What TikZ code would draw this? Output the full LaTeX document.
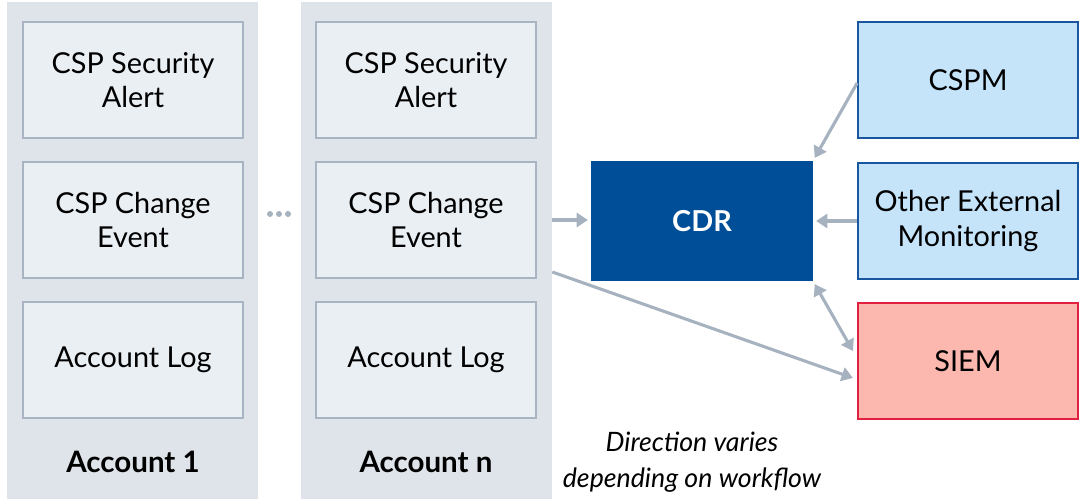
\documentclass[tikz,border=0pt]{standalone}
\usepackage{fontspec}
\setmainfont{Lato}
\usetikzlibrary{arrows.meta, positioning}

\definecolor{panelgray}{RGB}{222,228,234}
\definecolor{boxgray}{RGB}{234,239,244}
\definecolor{boxline}{RGB}{168,180,194}
\definecolor{arrowgray}{RGB}{166,178,192}
\definecolor{cdrblue}{RGB}{0,78,152}
\definecolor{extblue}{RGB}{197,228,250}
\definecolor{extline}{RGB}{24,86,160}
\definecolor{siemfill}{RGB}{252,184,174}
\definecolor{siemline}{RGB}{226,32,64}

\begin{document}
\begin{tikzpicture}[
    x=0.025cm, y=-0.025cm,
    font=\fontsize{20.5}{24.5}\selectfont,
    panel/.style={fill=panelgray, minimum width=6.275cm, minimum height=12.425cm, inner sep=0pt},
    srcbox/.style={fill=boxgray, draw=boxline, line width=1.2pt, minimum width=5.5cm, minimum height=2.9cm, align=center, inner sep=0pt},
    extbox/.style={fill=extblue, draw=extline, line width=1.2pt, minimum width=5.5cm, minimum height=2.9cm, align=center, inner sep=0pt},
    siembox/.style={fill=siemfill, draw=siemline, line width=1.2pt, minimum width=5.5cm, minimum height=2.9cm, align=center, inner sep=0pt},
    cdrbox/.style={fill=cdrblue, minimum width=5.55cm, minimum height=3.0cm, inner sep=0pt, text=white, font=\fontsize{20.5}{24.5}\selectfont\bfseries},
    acclabel/.style={font=\fontsize{21}{25}\selectfont\bfseries},
    conn/.style={draw=arrowgray, line width=2.2pt, -{Triangle[length=8pt, width=10pt]}},
    bothconn/.style={draw=arrowgray, line width=2.2pt, {Triangle[length=8pt, width=10pt]}-{Triangle[length=8pt, width=10pt]}},
]

% ===== Canvas =====
\useasboundingbox (0,0) rectangle (1088,499);

% ===== Account panels =====
\node[panel] (acc1) at (132.5, 250.5) {};
\node[panel] (accn) at (426.5, 250.5) {};

% source boxes in each account (3 rows)
\foreach \p/\x in {1/133, n/426} {
    \node[srcbox] (alert\p) at (\x, 80) {CSP Security\\Alert};
    \node[srcbox] (change\p) at (\x, 220) {CSP Change\\Event};
    \node[srcbox] (log\p) at (\x, 360) {Account Log};
}

\node[acclabel] (lbl1) at (133, 462) {Account 1};
\node[acclabel] (lbln) at (426, 462) {Account n};

% "..." between accounts
\foreach \dx in {-9, 0, 9}
    \fill[arrowgray] (279+\dx, 214) circle (3);

% ===== CDR and external systems =====
\node[cdrbox] (cdr) at (702, 221) {CDR};

\node[extbox] (cspm) at (968, 80) {CSPM};
\node[extbox] (other) at (968, 221) {Other External\\Monitoring};
\node[siembox] (siem) at (968, 361) {SIEM};

% ===== Connectors =====
\draw[conn] (accn.east |- changen.east) -- ([xshift=-2pt]cdr.west |- changen.east);
\draw[conn] (cspm.west |- 0,83) -- ([shift={(1pt,2pt)}]cdr.north east);
\draw[conn] (other.west) -- ([xshift=2pt]cdr.east);
\draw[bothconn] ([shift={(1pt,-2pt)}]cdr.south east) -- ([xshift=-3pt]siem.west |- 0,351);
\draw[conn] (accn.east |- 0,272) -- ([xshift=-3pt]siem.west |- 0,378);

% workflow note
\node[font=\fontsize{19}{25.5}\selectfont\itshape, align=center] (note) at (692, 462)
    {Direction varies\\depending on workflow};

\end{tikzpicture}
\end{document}
